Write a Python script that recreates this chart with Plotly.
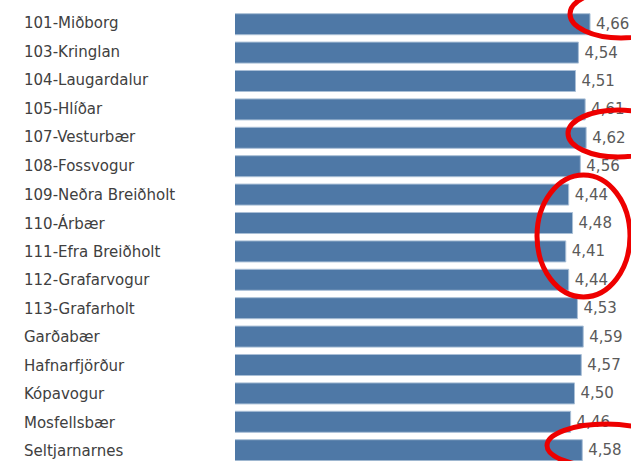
import plotly.graph_objects as go

categories = ["101-Miðborg", "103-Kringlan", "104-Laugardalur", "105-Hlíðar",
              "107-Vesturbær", "108-Fossvogur", "109-Neðra Breiðholt", "110-Árbær",
              "111-Efra Breiðholt", "112-Grafarvogur", "113-Grafarholt", "Garðabær",
              "Hafnarfjörður", "Kópavogur", "Mosfellsbær", "Seltjarnarnes"]
values = [4.66, 4.54, 4.51, 4.61, 4.62, 4.56, 4.44, 4.48,
          4.41, 4.44, 4.53, 4.59, 4.57, 4.50, 4.46, 4.58]
value_labels = ["\u2009" + f"{v:.2f}".replace(".", ",") for v in values]

W, H = 631, 461
ML, MR, MT, MB = 235, 0, 10, 0
PW, PH = W - ML - MR, H - MT - MB

# highlight ellipses (pixel boxes: x0, y0, x1, y1)
highlights = [(570, -10, 672, 38), (568, 110, 668, 157), (537, 175, 630, 297), (547, 424, 665, 467)]

def px(x):
    return (x - ML) / PW

def py(y):
    return 1 - (y - MT) / PH

fig = go.Figure(go.Bar(
    x=values, y=categories, orientation="h",
    marker=dict(color="#4e78a6", line=dict(color="#a9bfd6", width=1)),
    width=0.74,
    text=value_labels, textposition="outside",
    textfont=dict(family="DejaVu Sans", size=15, color="#5a5a5a"),
    cliponaxis=False,
))

for i, c in enumerate(categories):
    fig.add_annotation(x=px(23), xref="paper", y=c, yref="y", text=c,
                       showarrow=False, xanchor="left", yanchor="middle",
                       yshift=1 - i * 0.15, borderpad=0,
                       font=dict(family="DejaVu Sans", size=15, color="#404040"))

shapes = []
for (x0, y0, x1, y1) in highlights:
    shapes.append(dict(type="circle", xref="paper", yref="paper",
                       x0=px(x0), x1=px(x1), y0=py(y1), y1=py(y0),
                       line=dict(color="#ee0000", width=5)))

rows_visible = PH / 28.4
fig.update_layout(
    width=W, height=H,
    margin=dict(l=ML, r=MR, t=MT, b=MB),
    paper_bgcolor="white", plot_bgcolor="white",
    showlegend=False,
    xaxis=dict(range=[1, 1 + PW / 97.0], visible=False),
    yaxis=dict(range=[rows_visible - 0.5, -0.5], showticklabels=False,
               showgrid=False, zeroline=False, showline=False, ticks=""),
    shapes=shapes,
    uniformtext=dict(mode=False),
)

fig.write_html("out.html", config={"displayModeBar": False},
               post_script="document.body.style.margin='0';document.body.style.overflow='hidden';")
